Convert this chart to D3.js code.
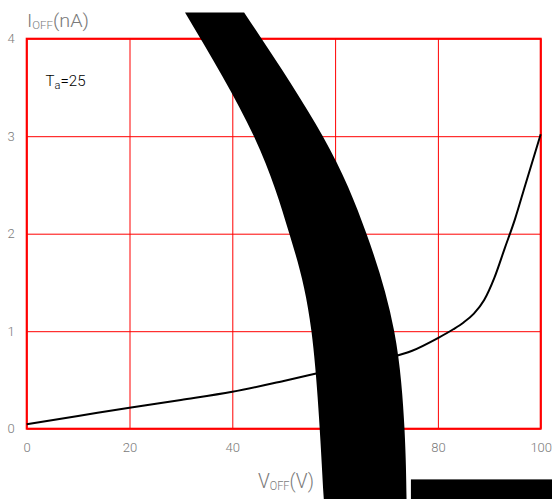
<!DOCTYPE html>
<html>
<head>
<meta charset="utf-8">
<style>
  body { margin: 0; background: #fff; }
  svg { display: block; }
  .lbl { font-family: "Roboto", "Open Sans", sans-serif; font-weight: 300; }
</style>
</head>
<body>
<svg class="chart"></svg>
<script src="https://d3js.org/d3.v7.min.js"></script>
<script>
// I_OFF vs V_OFF at Ta = 25
voltage = [0, 10, 20, 30, 40, 50, 60, 70, 75, 80, 83, 85, 87, 89, 91, 93, 95, 97, 100]
current = [0.045, 0.13, 0.216, 0.295, 0.378, 0.49, 0.61, 0.72, 0.8, 0.93, 1.02, 1.09, 1.18, 1.32, 1.55, 1.85, 2.15, 2.5, 3.02]

xTicks = [0, 20, 40, 60, 80, 100]
yTicks = [0, 1, 2, 3, 4]

// the black smear over the plot, in data units (V, nA)
bandLeft  = [[30.8, 4.27], [44.2, 3.0], [51.1, 2.0], [55.4, 1.0], [57.8, -0.72]]
bandRight = [[42.3, 4.27], [57.6, 3.0], [66.1, 2.0], [71.5, 1.0], [73.5, 0], [73.9, -0.72]]
blockV = [74.75, 102.5]
blockI = [-0.52, -0.75]

width  = 552
height = 499
margin = ({top: 38.7, right: 11.3, bottom: 70.3, left: 26.7})

x = d3.scaleLinear().domain([0, 100]).range([margin.left, width - margin.right])
y = d3.scaleLinear().domain([0, 4]).range([height - margin.bottom, margin.top])

const svg = d3.select("svg")
    .attr("width", width)
    .attr("height", height)
    .attr("viewBox", [0, 0, width, height]);

const grey = "#7a7a7a";

// grid + tick labels
xAxis = g => g
    .attr("transform", `translate(0,${y(0)})`)
    .call(d3.axisBottom(x).tickValues(xTicks).tickSize(-(y(0) - y(4))).tickPadding(14).tickFormat(d3.format("d")))
    .call(g => g.select(".domain").remove())
    .call(g => g.selectAll(".tick line").attr("stroke", "#ff0000").attr("stroke-width", 1))
    .call(g => g.selectAll(".tick text").attr("class", "lbl").attr("fill", grey).attr("font-size", 13));

yAxis = g => g
    .attr("transform", `translate(${margin.left},0)`)
    .call(d3.axisLeft(y).tickValues(yTicks).tickSize(-(x(100) - x(0))).tickPadding(12).tickFormat(d3.format("d")))
    .call(g => g.select(".domain").remove())
    .call(g => g.selectAll(".tick line").attr("stroke", "#ff0000").attr("stroke-width", 1))
    .call(g => g.selectAll(".tick text").attr("class", "lbl").attr("fill", grey).attr("font-size", 13));

svg.append("g").call(xAxis);
svg.append("g").call(yAxis);

svg.append("rect")
    .attr("x", x(0)).attr("y", y(4))
    .attr("width", x(100) - x(0)).attr("height", y(0) - y(4))
    .attr("fill", "none").attr("stroke", "#ff0000").attr("stroke-width", 2);

// curve
const pts = voltage.map((v, i) => [v, current[i]]);
svg.append("path")
    .datum(pts)
    .attr("fill", "none")
    .attr("stroke", "#000")
    .attr("stroke-width", 2)
    .attr("d", d3.line().x(d => x(d[0])).y(d => y(d[1])).curve(d3.curveMonotoneX));

// Ta label
const ta = svg.append("text").attr("class", "lbl").attr("x", 45.5).attr("y", 86).attr("font-size", 15).attr("fill", "#000")
    .attr("textLength", 40).attr("lengthAdjust", "spacingAndGlyphs");
ta.append("tspan").text("T");
ta.append("tspan").attr("font-size", 11).attr("dy", 3).text("a");
ta.append("tspan").attr("dy", -3).text("=25");

// axis titles
const yt = svg.append("text").attr("class", "lbl").attr("x", 27).attr("y", 27).attr("font-size", 19).attr("fill", grey)
    .attr("textLength", 62).attr("lengthAdjust", "spacingAndGlyphs");
yt.append("tspan").text("I");
yt.append("tspan").attr("font-size", 11).attr("dy", 2).text("OFF");
yt.append("tspan").attr("dy", -2).text("(nA)");

const xt = svg.append("text").attr("class", "lbl").attr("x", 258).attr("y", 488).attr("font-size", 21).attr("fill", grey)
    .attr("textLength", 56).attr("lengthAdjust", "spacingAndGlyphs");
xt.append("tspan").text("V");
xt.append("tspan").attr("font-size", 12).attr("dy", 2).text("OFF");
xt.append("tspan").attr("dy", -2).text("(V)");

// black smear and block
const edge = d3.line().x(d => x(d[0])).y(d => y(d[1])).curve(d3.curveNatural);
const left = edge(bandLeft);
const right = edge(bandRight.slice().reverse());
svg.append("path")
    .attr("fill", "#000")
    .attr("d", left + "L" + right.slice(1) + "Z");

svg.append("rect")
    .attr("fill", "#000")
    .attr("x", x(blockV[0])).attr("y", y(blockI[0]))
    .attr("width", x(blockV[1]) - x(blockV[0]))
    .attr("height", y(blockI[1]) - y(blockI[0]));
</script>
</body>
</html>
